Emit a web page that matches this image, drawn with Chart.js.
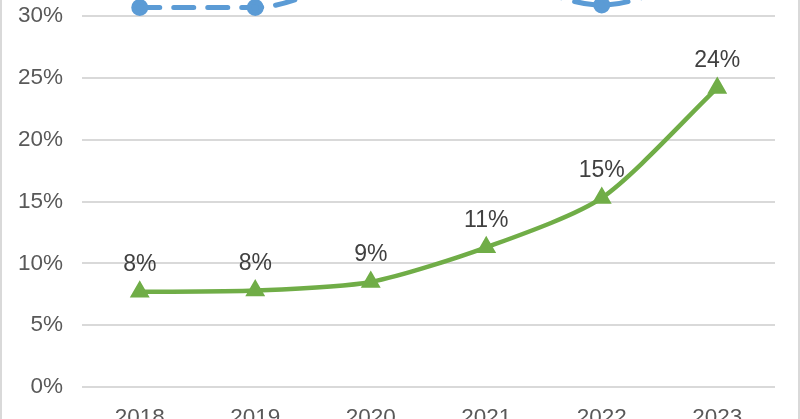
<!DOCTYPE html>
<html>
<head>
<meta charset="utf-8">
<script src="https://cdn.jsdelivr.net/npm/chart.js@4"></script>
<style>
  html, body { margin: 0; padding: 0; background: #fff; overflow: hidden; }
  #wrap {
    position: absolute; left: 0; top: -41px; width: 796px; height: 481px;
    border-left: 2px solid #d9d9d9; border-right: 2px solid #d9d9d9;
  }
</style>
</head>
<body>
<div id="wrap"><canvas id="chart"></canvas></div>
<script>
const years = ['2018', '2019', '2020', '2021', '2022', '2023'];
// blue dashed series, mostly above the visible top of the crop
const blueVals = [30.7, 30.7, 33, 33, 30.9, 34];
// green series with labels
const greenVals = [7.7, 7.8, 8.5, 11.3, 15.3, 24.2];
const yTicks = [0, 5, 10, 15, 20, 25, 30];

const FONT = "'Liberation Sans', Arial, sans-serif";

// data labels above the green points
const labelPlugin = {
  id: 'labels',
  afterDatasetsDraw(chart) {
    const ctx = chart.ctx;
    const meta = chart.getDatasetMeta(1);
    ctx.save();
    ctx.font = '23px ' + FONT;
    ctx.fillStyle = '#404040';
    ctx.textAlign = 'center';
    ctx.textBaseline = 'middle';
    meta.data.forEach((pt, i) => {
      ctx.fillText(Math.round(greenVals[i]) + '%', pt.x, pt.y - 27);
    });
    ctx.restore();
  }
};

new Chart(document.getElementById('chart'), {
  type: 'line',
  data: {
    labels: years,
    datasets: [
      {
        data: blueVals,
        borderColor: '#5B9BD5',
        backgroundColor: '#5B9BD5',
        borderWidth: 5,
        borderDash: [20, 14],
        borderCapStyle: 'round',
        pointRadius: 6,
        pointStyle: 'circle',
        cubicInterpolationMode: 'monotone',
        clip: false
      },
      {
        data: greenVals,
        borderColor: '#70AD47',
        backgroundColor: '#70AD47',
        borderWidth: 4.5,
        pointStyle: 'triangle',
        pointRadius: 7,
        tension: 0.25
      }
    ]
  },
  options: {
    responsive: true,
    maintainAspectRatio: false,
    animation: false,
    layout: { padding: { top: 0, right: 23, left: 0, bottom: 0 } },
    plugins: {
      legend: { display: false },
      tooltip: { enabled: false }
    },
    scales: {
      x: {
        offset: true,
        border: { display: false },
        grid: { display: false, drawTicks: false, offset: true },
        ticks: { color: '#595959', font: { family: FONT, size: 22.5 }, padding: 17 },
        afterFit(s) { s.height = 53; }
      },
      y: {
        min: 0,
        max: 32,
        border: { display: false },
        grid: { color: '#d9d9d9', lineWidth: 2, drawTicks: false },
        afterBuildTicks(s) { s.ticks = yTicks.map(v => ({ value: v })); },
        ticks: {
          color: '#595959',
          font: { family: FONT, size: 22.5 },
          padding: 19,
          callback: v => v + '%'
        },
        afterFit(s) { s.width = 80; }
      }
    }
  },
  plugins: [labelPlugin]
});
</script>
</body>
</html>
